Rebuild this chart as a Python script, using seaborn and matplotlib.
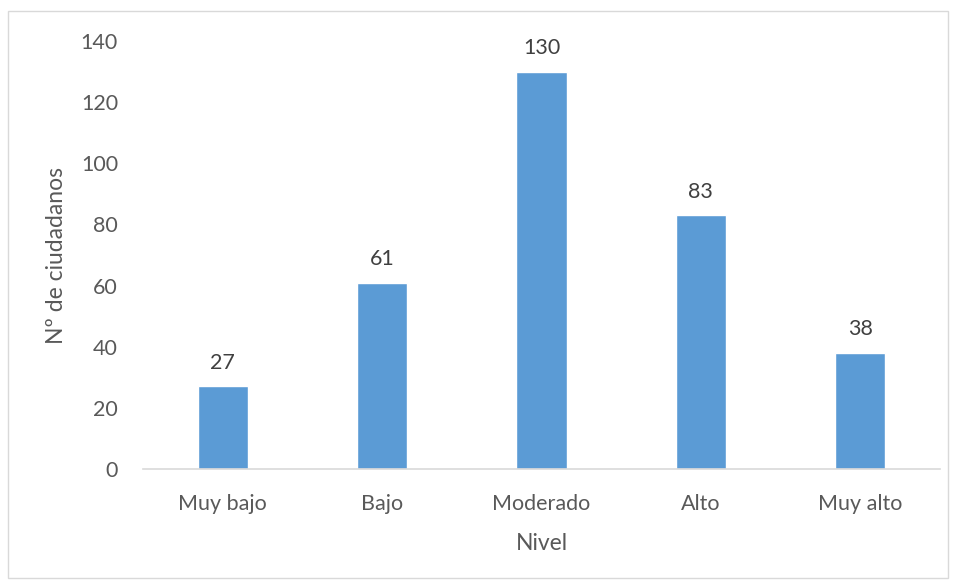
import matplotlib
matplotlib.use("Agg")
import matplotlib.pyplot as plt
import seaborn as sns
import pandas as pd
from matplotlib.patches import Rectangle

# Datos
niveles = ["Muy bajo", "Bajo", "Moderado", "Alto", "Muy alto"]
ciudadanos = [27, 61, 130, 83, 38]

df = pd.DataFrame({"Nivel": niveles, "Ciudadanos": ciudadanos})

sns.set_style("white")
plt.rcParams["font.family"] = ["Lato", "DejaVu Sans"]

fig = plt.figure(figsize=(9.55, 5.81), dpi=100)
ax = fig.add_axes([143 / 955, 1 - 469 / 581, (940 - 143) / 955, (469 - 41) / 581])

sns.barplot(data=df, x="Nivel", y="Ciudadanos", color="#5B9BD5",
            width=0.315, saturation=1, ax=ax)

# Etiquetas de datos
for i, v in enumerate(ciudadanos):
    ax.text(i, v + 4.5, str(v), ha="center", va="bottom",
            fontsize=15.5, color="#404040")

ax.set_ylim(0, 140)
ax.set_xlim(-0.5, 4.5)
ax.set_yticks(range(0, 141, 20))
ax.tick_params(axis="both", length=0, labelsize=15.5, labelcolor="#595959")
ax.tick_params(axis="x", pad=18)
ax.tick_params(axis="y", pad=18)

ax.set_xlabel("Nivel", fontsize=16.5, color="#595959", labelpad=14)
ax.set_ylabel("Nº de ciudadanos", fontsize=16.5, color="#595959", labelpad=10)

for s in ["top", "right", "left"]:
    ax.spines[s].set_visible(False)
ax.spines["bottom"].set_color("#D9D9D9")
ax.spines["bottom"].set_linewidth(1.2)

# Borde del gráfico
fig.patches.append(Rectangle((8 / 955, 3 / 581), 940 / 955, 567 / 581,
                             transform=fig.transFigure, fill=False,
                             edgecolor="#D9D9D9", linewidth=1))

fig.savefig("out.png", dpi=100)
